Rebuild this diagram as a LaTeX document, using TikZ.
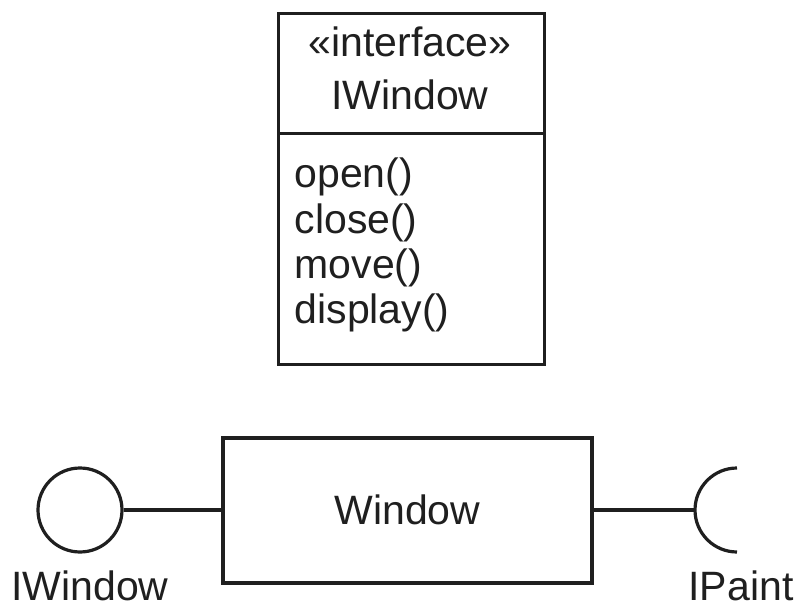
\documentclass[tikz,border=0pt]{standalone}
\usepackage{fontspec}
\setmainfont{Liberation Sans}
\begin{document}
\begin{tikzpicture}[x=1pt,y=-1pt,
  line width=3.2pt,
  ink/.style={draw=black!88},
  txt/.style={font=\fontsize{41}{45}\selectfont, inner sep=0pt, text=black!88},
  boxpart/.style={ink, minimum width=266pt, inner sep=0pt, anchor=north west}]
\useasboundingbox (0,0) rectangle (800,609);

% interface class box: header and operations compartment
\node[boxpart, minimum height=120pt] (head) at (277,12) {};
\node[boxpart, minimum height=231pt] (ops) at (277,132) {};
\node[txt, anchor=base] (stereo) at (410,57) {«interface»};
\node[txt, anchor=base] (iname) at (410,110) {IWindow};
\node[txt, anchor=base west] (m1) at (293,188) {open()};
\node[txt, anchor=base west] (m2) at (293,234) {close()};
\node[txt, anchor=base west] (m3) at (293,279) {move()};
\node[txt, anchor=base west] (m4) at (293,324) {display()};

% component with provided (lollipop) and required (socket) interfaces
\node[ink, minimum width=369pt, minimum height=145pt, inner sep=0pt] (comp) at (407.5,510.5) {};
\node[txt] (cname) at (407.5,510) {Window};
\node[ink, circle, minimum size=84pt, inner sep=0pt] (ball) at (80,510) {};
\coordinate (sock) at (695,510);
\draw[ink] (ball.east) -- (comp.west |- ball.east);
\draw[ink] (comp.east |- sock) -- (sock);
\draw[ink] (737,552) arc[start angle=90, end angle=270, radius=42];
\node[txt, anchor=base] (lball) at (90,600) {IWindow};
\node[txt, anchor=base] (lsock) at (741,600) {IPaint};
\end{tikzpicture}
\end{document}
